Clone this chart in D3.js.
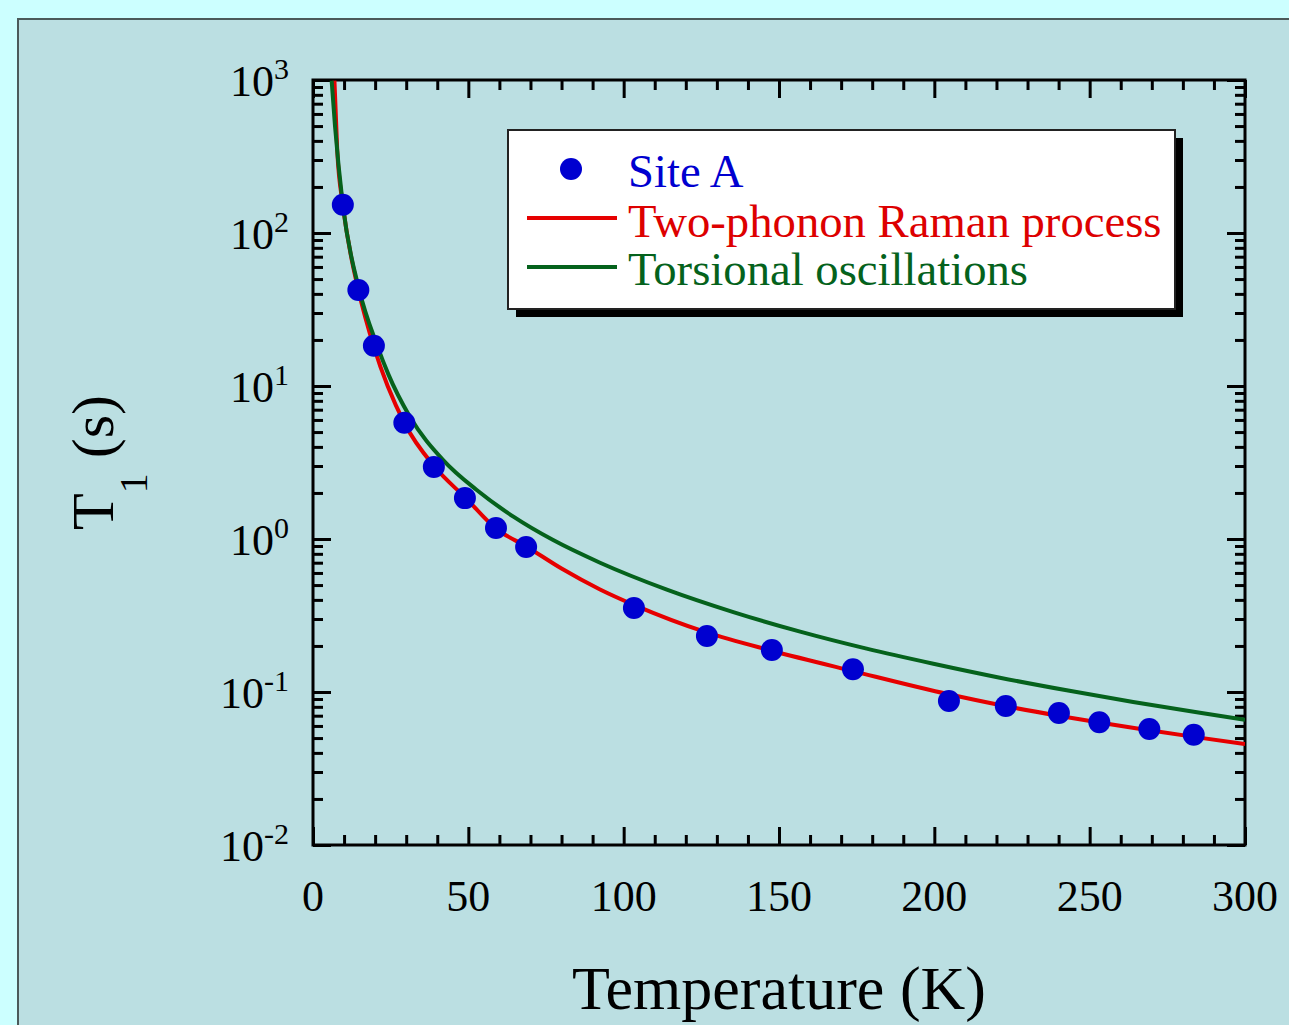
<!DOCTYPE html>
<html>
<head>
<meta charset="utf-8">
<script src="https://cdn.jsdelivr.net/npm/d3@7"></script>
<style>
  html, body { margin: 0; padding: 0; background: #ccffff; }
  svg { display: block; }
  text { font-family: "Liberation Serif", "Times New Roman", serif; }
</style>
</head>
<body>
<div id="vis"></div>
<script>
// measured data, Site A
const siteTemps = [9.6, 14.6, 19.6, 29.4, 38.9, 48.9, 58.9, 68.6, 103.3, 126.8, 147.7, 173.8, 204.7, 223.0, 240.1, 253.1, 269.2, 283.5];
const siteT1 = [153, 42.4, 18.3, 5.75, 2.96, 1.85, 1.18, 0.887, 0.354, 0.232, 0.188, 0.141, 0.0873, 0.081, 0.0729, 0.0634, 0.0573, 0.0526];

// two-phonon Raman fit
const ramanTemps = [6.9, 7.8, 9.6, 12.0, 14.6, 19.6, 29.4, 39.3, 49.2, 58.9, 68.8, 80, 92.4, 103.3, 126.7, 147.7, 174.1, 204.7, 221.1, 239.9, 253.1, 269.2, 283.6, 300];
const ramanT1 = [990, 348, 153, 75, 42.4, 18.0, 5.73, 2.94, 1.85, 1.17, 0.891, 0.641, 0.468, 0.371, 0.245, 0.186, 0.1365, 0.0966, 0.0822, 0.0700, 0.0631, 0.0562, 0.0509, 0.0457];

// torsional oscillations fit
const torsTemps = [6.0, 7.1, 9.6, 14.9, 20.7, 24.2, 31.2, 41.9, 52.7, 64.5, 77.3, 92.4, 113.9, 135.3, 156.8, 178.2, 199.7, 221.1, 242.6, 264.0, 285.5, 300];
const torsT1 = [990, 495, 153, 42.4, 18.3, 12.0, 6.29, 3.28, 2.09, 1.40, 0.984, 0.700, 0.467, 0.333, 0.248, 0.192, 0.153, 0.124, 0.1026, 0.0861, 0.0731, 0.0658];

const xTicks = [0, 50, 100, 150, 200, 250, 300];
const yExponents = [-2, -1, 0, 1, 2, 3];
const legendLabels = ["Site A", "Two-phonon Raman process", "Torsional oscillations"];

const BLUE = "#0000d0", RED = "#e60000", GREEN = "#05621c";

function init() {
    const W = 1289, H = 1025;
    const plot = {left: 313, top: 80, right: 1245, bottom: 845};

    const svg = d3.select('#vis').append('svg')
        .attr('width', W).attr('height', H);

    // outer panel
    svg.append('rect')
        .attr('x', 0).attr('y', 0).attr('width', W).attr('height', H)
        .attr('fill', '#ccffff');
    svg.append('rect')
        .attr('x', 18).attr('y', 19).attr('width', W + 20).attr('height', H + 20)
        .attr('fill', '#bbdfe2')
        .attr('stroke', '#4b5a5a').attr('stroke-width', 2);

    const xScale = d3.scaleLinear().domain([0, 300]).range([plot.left, plot.right]);
    const yScale = d3.scaleLog().domain([1e-2, 1e3]).range([plot.bottom, plot.top]);

    const xMinor = d3.range(10, 300, 10).filter(v => v % 50 != 0);
    let yMinor = [];
    yExponents.slice(0, -1).forEach(e => {
        for (let k = 2; k <= 9; k++) yMinor.push(k * Math.pow(10, e));
    });
    const yMajor = yExponents.map(e => Math.pow(10, e));

    function styleAxis(g) {
        g.select('.domain').remove();
        g.selectAll('.tick line').attr('stroke', '#000').attr('stroke-width', 3);
        g.selectAll('.tick text').remove();
    }

    // ticks, all pointing inward
    const axes = [
        [d3.axisBottom, xScale, `translate(0,${plot.bottom})`],
        [d3.axisTop, xScale, `translate(0,${plot.top})`],
    ];
    axes.forEach(([fn, sc, tr]) => {
        svg.append('g').attr('transform', tr)
            .call(fn(sc).tickValues(xTicks).tickSize(-18)).call(styleAxis);
        svg.append('g').attr('transform', tr)
            .call(fn(sc).tickValues(xMinor).tickSize(-10)).call(styleAxis);
    });
    const yAxes = [
        [d3.axisLeft, `translate(${plot.left},0)`],
        [d3.axisRight, `translate(${plot.right},0)`],
    ];
    yAxes.forEach(([fn, tr]) => {
        svg.append('g').attr('transform', tr)
            .call(fn(yScale).tickValues(yMajor).tickSize(-18)).call(styleAxis);
        svg.append('g').attr('transform', tr)
            .call(fn(yScale).tickValues(yMinor).tickSize(-10)).call(styleAxis);
    });

    // frame
    svg.append('rect')
        .attr('x', plot.left).attr('y', plot.top)
        .attr('width', plot.right - plot.left).attr('height', plot.bottom - plot.top)
        .attr('fill', 'none').attr('stroke', '#000').attr('stroke-width', 3);

    // tick labels
    svg.selectAll('.xlabel')
        .data(xTicks)
        .enter().append('text')
        .attr('class', 'xlabel')
        .attr('x', d => xScale(d))
        .attr('y', 911)
        .attr('text-anchor', 'middle')
        .style('font-size', '44px')
        .text(d => d);

    const ylab = svg.selectAll('.ylabel')
        .data(yExponents)
        .enter().append('text')
        .attr('class', 'ylabel')
        .attr('x', 289)
        .attr('y', d => yScale(Math.pow(10, d)) + 16)
        .attr('text-anchor', 'end')
        .style('font-size', '44px');
    ylab.append('tspan').text('10');
    ylab.append('tspan').attr('dy', -17).style('font-size', '30px').text(d => d);

    // curves
    svg.append('clipPath').attr('id', 'clip')
        .append('rect')
        .attr('x', plot.left).attr('y', plot.top)
        .attr('width', plot.right - plot.left).attr('height', plot.bottom - plot.top);

    const line = d3.line()
        .x(d => xScale(d[0]))
        .y(d => yScale(d[1]))
        .curve(d3.curveMonotoneX);

    svg.append('path')
        .datum(ramanTemps.map((t, i) => [t, ramanT1[i]]))
        .attr('clip-path', 'url(#clip)')
        .attr('d', line)
        .attr('fill', 'none').attr('stroke', RED).attr('stroke-width', 4);

    svg.append('path')
        .datum(torsTemps.map((t, i) => [t, torsT1[i]]))
        .attr('clip-path', 'url(#clip)')
        .attr('d', line)
        .attr('fill', 'none').attr('stroke', GREEN).attr('stroke-width', 4);

    svg.selectAll('.point')
        .data(siteTemps.map((t, i) => [t, siteT1[i]]))
        .enter().append('circle')
        .attr('class', 'point')
        .attr('cx', d => xScale(d[0]))
        .attr('cy', d => yScale(d[1]))
        .attr('r', 11)
        .attr('fill', BLUE);

    addLegend(svg);
    addAxisTitles(svg, plot);
}

function addLegend(svg) {
    const bx = 508, by = 130, bw = 667, bh = 179;
    svg.append('rect')
        .attr('x', bx + 8).attr('y', by + 8).attr('width', bw).attr('height', bh)
        .attr('fill', '#000');
    svg.append('rect')
        .attr('x', bx).attr('y', by).attr('width', bw).attr('height', bh)
        .attr('fill', '#fff').attr('stroke', '#222').attr('stroke-width', 2);

    svg.append('circle')
        .attr('cx', 571).attr('cy', 169).attr('r', 11).attr('fill', BLUE);
    svg.append('line')
        .attr('x1', 527).attr('x2', 617).attr('y1', 218).attr('y2', 218)
        .attr('stroke', RED).attr('stroke-width', 4);
    svg.append('line')
        .attr('x1', 527).attr('x2', 617).attr('y1', 267).attr('y2', 267)
        .attr('stroke', GREEN).attr('stroke-width', 4);

    const colors = [BLUE, "#dd0000", GREEN];
    const baselines = [187, 237, 285];
    svg.selectAll('.legtext')
        .data(legendLabels)
        .enter().append('text')
        .attr('class', 'legtext')
        .attr('x', 628)
        .attr('y', (d, i) => baselines[i])
        .style('fill', (d, i) => colors[i])
        .style('font-size', '46.7px')
        .text(d => d);
}

function addAxisTitles(svg, plot) {
    svg.append('text')
        .attr('x', (plot.left + plot.right) / 2)
        .attr('y', 1009)
        .attr('text-anchor', 'middle')
        .style('font-size', '62px')
        .text('Temperature (K)');

    const yt = svg.append('text')
        .attr('transform', `translate(113,${(plot.top + plot.bottom) / 2}) rotate(-90)`)
        .attr('text-anchor', 'middle')
        .style('font-size', '60px');
    yt.append('tspan').text('T');
    yt.append('tspan').attr('dy', 34).style('font-size', '40px').text('1');
    yt.append('tspan').attr('dy', -34).text(' (s)');
}

window.addEventListener('load', init);
</script>
</body>
</html>
